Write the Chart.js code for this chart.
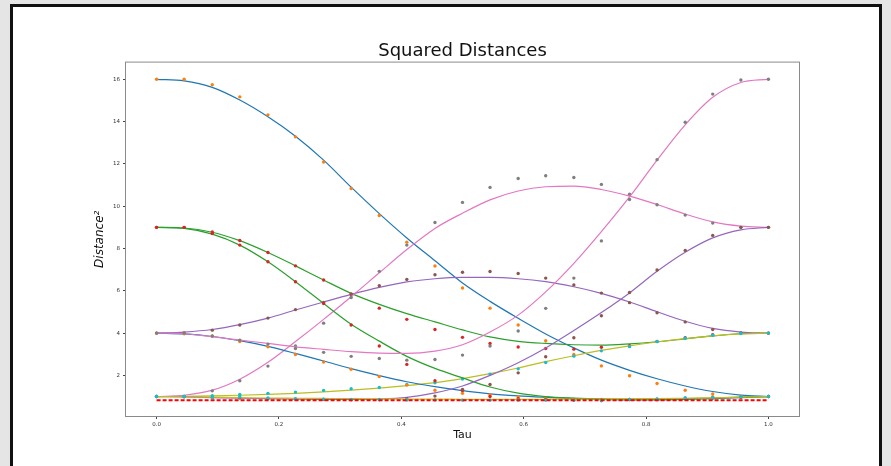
<!DOCTYPE html>
<html>
<head>
<meta charset="utf-8">
<script src="https://cdn.jsdelivr.net/npm/chart.js@4.4.1/dist/chart.umd.min.js"></script>
<style>
  html, body { margin: 0; padding: 0; }
  body { width: 891px; height: 466px; background: #e5e5e5; overflow: hidden; position: relative; }
  .frame { position: absolute; left: 10px; top: 4px; width: 866px; height: 480px; border: 3px solid #111; background: #fff; }
  #chart { position: absolute; left: 0; top: 0; }
</style>
</head>
<body>
<div class="frame"></div>
<canvas id="chart" width="891" height="466"></canvas>
<script>
// sample positions along the path
const tau = [0, 0.045, 0.091, 0.136, 0.182, 0.227, 0.273, 0.318, 0.364, 0.409, 0.455, 0.5,
             0.545, 0.591, 0.636, 0.682, 0.727, 0.773, 0.818, 0.864, 0.909, 0.955, 1.0];

const xTicks = [0, 0.2, 0.4, 0.6, 0.8, 1.0];
const yTicks = [2, 4, 6, 8, 10, 12, 14, 16];

// fitted curves
const blueA   = [16, 15.93, 15.62, 15.02, 14.23, 13.31, 12.18, 10.9, 9.65, 8.5, 7.42, 6.37, 5.5, 4.7, 3.96, 3.3, 2.72, 2.24, 1.84, 1.5, 1.24, 1.07, 1.0];
const greenA  = [9.0, 8.97, 8.77, 8.37, 7.81, 7.18, 6.51, 5.88, 5.36, 4.92, 4.53, 4.15, 3.82, 3.61, 3.51, 3.45, 3.43, 3.49, 3.59, 3.73, 3.87, 3.97, 4.0];
const purpleA = [4.0, 4.05, 4.17, 4.4, 4.71, 5.09, 5.47, 5.83, 6.16, 6.42, 6.57, 6.63, 6.63, 6.57, 6.43, 6.19, 5.88, 5.47, 5.01, 4.56, 4.22, 4.05, 4.0];
const pinkA   = [1.0, 1.06, 1.3, 1.82, 2.62, 3.6, 4.65, 5.72, 6.85, 7.95, 8.95, 9.67, 10.3, 10.72, 10.92, 10.95, 10.79, 10.48, 10.08, 9.63, 9.26, 9.06, 9.0];
const oliveA  = [1.0, 1.01, 1.03, 1.06, 1.1, 1.15, 1.22, 1.3, 1.4, 1.52, 1.66, 1.85, 2.08, 2.35, 2.65, 2.93, 3.18, 3.4, 3.58, 3.74, 3.87, 3.96, 4.0];
const blueB   = [4.0, 3.96, 3.84, 3.64, 3.37, 3.04, 2.68, 2.32, 1.99, 1.7, 1.47, 1.28, 1.13, 1.03, 0.96, 0.9, 0.86, 0.84, 0.84, 0.86, 0.9, 0.95, 1.0];
const greenB  = [9.0, 8.95, 8.68, 8.16, 7.37, 6.43, 5.4, 4.42, 3.62, 2.9, 2.33, 1.88, 1.45, 1.16, 1.0, 0.93, 0.89, 0.88, 0.88, 0.9, 0.93, 0.97, 1.0];
const purpleB = [1.0, 0.98, 0.95, 0.92, 0.9, 0.88, 0.86, 0.86, 0.88, 0.96, 1.17, 1.5, 2.0, 2.6, 3.3, 4.12, 4.97, 5.9, 6.92, 7.82, 8.5, 8.88, 9.0];
const pinkB   = [4.0, 3.97, 3.83, 3.67, 3.51, 3.35, 3.23, 3.12, 3.05, 3.04, 3.15, 3.45, 4.05, 4.85, 5.95, 7.3, 8.8, 10.44, 12.18, 13.85, 15.15, 15.85, 16.0];
const oliveB  = [1.0, 0.99, 0.97, 0.95, 0.93, 0.92, 0.91, 0.9, 0.89, 0.88, 0.88, 0.87, 0.87, 0.87, 0.87, 0.88, 0.88, 0.89, 0.9, 0.92, 0.94, 0.97, 1.0];

// measured samples
const orangeA = [16.0, 16.0, 15.74, 15.17, 14.32, 13.28, 12.09, 10.84, 9.56, 8.3, 7.17, 6.13, 5.18, 4.38, 3.64, 2.99, 2.45, 1.98, 1.62, 1.3, 1.12, 1.02, 1.0];
const redA    = [9.0, 9.0, 8.78, 8.38, 7.81, 7.18, 6.51, 5.83, 5.18, 4.65, 4.17, 3.8, 3.51, 3.34, 3.27, 3.24, 3.33, 3.4, 3.6, 3.78, 3.92, 4.0, 4.0];
const brownA  = [4.0, 4.01, 4.14, 4.38, 4.71, 5.11, 5.45, 5.85, 6.24, 6.54, 6.76, 6.88, 6.91, 6.82, 6.6, 6.28, 5.89, 5.44, 4.96, 4.53, 4.17, 4.01, 4.0];
const grayA   = [1.0, 1.0, 1.27, 1.75, 2.44, 3.39, 4.47, 5.68, 6.92, 8.16, 9.23, 10.18, 10.89, 11.31, 11.44, 11.36, 11.03, 10.57, 10.07, 9.58, 9.2, 9.0, 9.0];
const cyanA   = [1.0, 1.0, 1.04, 1.1, 1.15, 1.21, 1.29, 1.37, 1.43, 1.57, 1.65, 1.83, 2.06, 2.31, 2.61, 2.91, 3.16, 3.36, 3.6, 3.76, 3.9, 3.98, 4.0];
const orangeB = [4.0, 3.97, 3.85, 3.6, 3.35, 2.99, 2.63, 2.29, 1.95, 1.54, 1.3, 1.15, 1.08, 0.98, 0.92, 0.88, 0.85, 0.86, 0.85, 0.88, 0.98, 0.97, 1.0];
const redB    = [9.0, 9.0, 8.71, 8.16, 7.37, 6.43, 5.4, 4.38, 3.39, 2.52, 1.75, 1.28, 1.0, 0.9, 0.86, 0.84, 0.85, 0.86, 0.87, 0.9, 0.93, 0.97, 1.0];
const brownB  = [1.0, 0.99, 0.96, 0.93, 0.9, 0.88, 0.86, 0.85, 0.86, 0.9, 1.02, 1.34, 1.57, 2.12, 2.88, 3.78, 4.82, 5.92, 6.98, 7.91, 8.62, 9.0, 9.0];
const grayB   = [4.0, 4.0, 3.86, 3.67, 3.48, 3.27, 3.09, 2.9, 2.8, 2.72, 2.75, 2.96, 3.39, 4.1, 5.17, 6.6, 8.36, 10.32, 12.2, 13.97, 15.3, 15.97, 16.0];
const cyanB   = [1.0, 1.0, 0.96, 0.99, 0.93, 0.9, 0.87, 0.86, 0.85, 0.84, 0.84, 0.83, 0.83, 0.83, 0.83, 0.82, 0.8, 0.86, 0.89, 0.94, 0.96, 0.99, 1.0];

// threshold
const cutoffTau = [0, 1];
const cutoffLevel = [0.82, 0.82];

const lineColors = ['#1f77b4', '#2ca02c', '#9467bd', '#e377c2', '#bcbd22'];
const dotColors = ['#ff7f0e', '#d62728', '#8c564b', '#7f7f7f', '#17becf'];

const curves = [blueA, greenA, purpleA, pinkA, oliveA, blueB, greenB, purpleB, pinkB, oliveB];
const samples = [orangeA, redA, brownA, grayA, cyanA, orangeB, redB, brownB, grayB, cyanB];

const toPoints = ys => tau.map((t, i) => ({ x: t, y: ys[i] }));

const datasets = [];
curves.forEach((ys, i) => {
  datasets.push({
    data: toPoints(ys),
    borderColor: lineColors[i % 5],
    borderWidth: 1.2,
    pointRadius: 0,
    cubicInterpolationMode: 'monotone',
    fill: false
  });
  datasets.push({
    data: toPoints(samples[i]),
    showLine: false,
    backgroundColor: dotColors[i % 5],
    borderWidth: 0,
    pointRadius: 1.7
  });
});
datasets.push({
  data: cutoffTau.map((t, i) => ({ x: t, y: cutoffLevel[i] })),
  borderColor: '#ff0000',
  borderDash: [4, 2],
  borderWidth: 2,
  pointRadius: 0
});
// later datasets on top
datasets.forEach((d, i) => { d.order = -i; });

const frame = {
  id: 'frame',
  afterDraw(chart) {
    const { ctx, chartArea: a } = chart;
    ctx.save();
    ctx.strokeStyle = '#8a8a8a';
    ctx.lineWidth = 1;
    ctx.strokeRect(a.left - 0.5, a.top - 0.5, a.right - a.left + 1, a.bottom - a.top + 1);
    ctx.restore();
  }
};

const tickFont = { family: 'DejaVu Sans', size: 5.5 };

new Chart(document.getElementById('chart'), {
  type: 'line',
  data: { datasets },
  plugins: [frame],
  options: {
    responsive: false,
    animation: false,
    events: [],
    layout: { padding: { top: 41, right: 92, bottom: 0, left: 0 } },
    plugins: {
      legend: { display: false },
      tooltip: { enabled: false },
      title: {
        display: true,
        text: 'Squared Distances',
        fullSize: false,
        color: '#111',
        font: { family: 'DejaVu Sans', size: 18, weight: 'normal' },
        padding: { top: 0, bottom: 0 }
      }
    },
    scales: {
      x: {
        type: 'linear',
        min: -0.05,
        max: 1.05,
        afterBuildTicks: s => { s.ticks = xTicks.map(v => ({ value: v })); },
        afterFit: s => { s.height = 50; },
        border: { display: false },
        grid: { drawOnChartArea: false, tickLength: 3, color: '#444' },
        ticks: { padding: 2, color: '#333', font: tickFont, maxRotation: 0, autoSkip: false,
                 callback: v => v.toFixed(1) },
        title: { display: true, text: 'Tau', color: '#111',
                 font: { family: 'DejaVu Sans', size: 11 }, padding: { top: 0, bottom: 24 } }
      },
      y: {
        type: 'linear',
        min: 0.08,
        max: 16.79,
        afterBuildTicks: s => { s.ticks = yTicks.map(v => ({ value: v })); },
        afterFit: s => { s.width = 126; },
        border: { display: false },
        grid: { drawOnChartArea: false, tickLength: 3, color: '#444' },
        ticks: { padding: 3, color: '#333', font: tickFont, callback: v => String(v) },
        title: { display: true, text: 'Distance²', color: '#111',
                 font: { family: 'DejaVu Sans', size: 12, style: 'italic' }, padding: { top: 93, bottom: 0 } }
      }
    }
  }
});
</script>
</body>
</html>
